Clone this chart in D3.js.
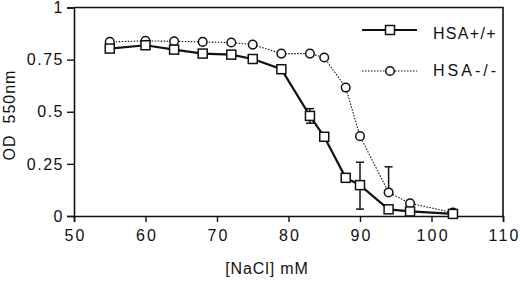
<!DOCTYPE html>
<html>
<head>
<meta charset="utf-8">
<script src="https://cdn.jsdelivr.net/npm/d3@7"></script>
<style>
  body { margin: 0; background: #fff; }
  text { font-family: "Liberation Sans", Arial, sans-serif; fill: #111; }
</style>
</head>
<body>
<svg id="mainsvg" width="520" height="283"></svg>
<script>
// NaCl concentrations (mM)
var nacl = [55, 60, 64, 68, 72, 75, 79, 83, 85, 88, 90, 94, 97, 103];
// OD 550nm values
var wildType = [0.803, 0.819, 0.798, 0.779, 0.774, 0.753, 0.704, 0.48, 0.38, 0.183, 0.148, 0.032, 0.022, 0.01];
var knockOut = [0.835, 0.84, 0.838, 0.835, 0.832, 0.822, 0.779, 0.779, 0.76, 0.616, 0.383, 0.113, 0.061, 0.016];
// error bars: [x, value, up, down]
var wildErr = [[83, 0.48, 0.035, 0.035], [90, 0.148, 0.11, 0.115]];
var koErr = [[94, 0.113, 0.123, 0]];
var xTicks = [50, 60, 70, 80, 90, 100, 110];
var yTicks = [0, 0.25, 0.5, 0.75, 1];
var legendNames = ["HSA+/+", "HSA-/-"];

var svg = d3.select("#mainsvg");
var m = { left: 74, right: 503, top: 7.5, bottom: 216 };

var x = d3.scaleLinear().domain([50, 110]).range([m.left, m.right]);
var y = d3.scaleLinear().domain([0, 1]).range([m.bottom, m.top]);

// frame top/right
svg.append("path")
  .attr("d", "M" + m.left + "," + m.top + "H" + m.right + "V" + m.bottom)
  .attr("fill", "none").attr("stroke", "#111").attr("stroke-width", 1.6);

var xAxis = svg.append("g")
  .attr("transform", "translate(0," + m.bottom + ")")
  .call(d3.axisBottom(x).tickValues(xTicks).tickSize(6).tickPadding(8).tickFormat(d3.format("d")));
var yAxis = svg.append("g")
  .attr("transform", "translate(" + m.left + ",0)")
  .call(d3.axisLeft(y).tickValues(yTicks).tickSize(7).tickPadding(3).tickFormat(function (d) { return d; }));

[xAxis, yAxis].forEach(function (a) {
  a.attr("font-size", 16).attr("font-family", null);
  a.select(".domain").attr("stroke", "#111").attr("stroke-width", 1.6);
  a.selectAll(".tick line").attr("stroke", "#111").attr("stroke-width", 1.4);
  a.selectAll("text").attr("fill", "#111");
});
xAxis.selectAll("text").attr("letter-spacing", 2.2).attr("dx", 1.1);
yAxis.selectAll("text").attr("letter-spacing", 1.5);

// axis titles
svg.append("text").attr("x", 267).attr("y", 274).attr("text-anchor", "middle")
  .attr("font-size", 16).attr("letter-spacing", 0.9).text("[NaCl] mM");
svg.append("text").attr("transform", "translate(15,115) rotate(-90)")
  .attr("text-anchor", "middle").attr("font-size", 16).attr("letter-spacing", 1)
  .style("white-space", "pre").text("OD  550nm");

var line = d3.line()
  .x(function (d) { return x(d[0]); })
  .y(function (d) { return y(d[1]); });

var wildData = nacl.map(function (d, i) { return [d, wildType[i]]; });
var koData = nacl.map(function (d, i) { return [d, knockOut[i]]; });

function errBars(data) {
  data.forEach(function (e) {
    var cx = x(e[0]);
    var g = svg.append("g").attr("stroke", "#111").attr("stroke-width", 1.5);
    g.append("line").attr("x1", cx).attr("x2", cx)
      .attr("y1", y(e[1] + e[2])).attr("y2", y(e[1] - e[3]));
    g.append("line").attr("x1", cx - 4).attr("x2", cx + 4)
      .attr("y1", y(e[1] + e[2])).attr("y2", y(e[1] + e[2]));
    if (e[3] > 0) {
      g.append("line").attr("x1", cx - 4).attr("x2", cx + 4)
        .attr("y1", y(e[1] - e[3])).attr("y2", y(e[1] - e[3]));
    }
  });
}
errBars(wildErr);
errBars(koErr);

// HSA-/- dotted
svg.append("path").datum(koData).attr("d", line)
  .attr("fill", "none").attr("stroke", "#111").attr("stroke-width", 1.1)
  .attr("stroke-dasharray", "1.5,1.5");
svg.selectAll("circle.ko").data(koData).enter().append("circle")
  .attr("class", "ko")
  .attr("cx", function (d) { return x(d[0]); })
  .attr("cy", function (d) { return y(d[1]); })
  .attr("r", 4.3).attr("fill", "#fff").attr("stroke", "#111").attr("stroke-width", 1.5);

// HSA+/+ solid
svg.append("path").datum(wildData).attr("d", line)
  .attr("fill", "none").attr("stroke", "#111").attr("stroke-width", 2.2);
svg.selectAll("rect.wt").data(wildData).enter().append("rect")
  .attr("class", "wt")
  .attr("x", function (d) { return x(d[0]) - 4.5; })
  .attr("y", function (d) { return y(d[1]) - 4.5; })
  .attr("width", 9).attr("height", 9)
  .attr("fill", "#fff").attr("stroke", "#111").attr("stroke-width", 1.5);

// legend
var lg = svg.append("g");
lg.append("line").attr("x1", 362).attr("x2", 417).attr("y1", 30).attr("y2", 30)
  .attr("stroke", "#111").attr("stroke-width", 2.2);
lg.append("rect").attr("x", 385.5).attr("y", 25.5).attr("width", 9).attr("height", 9)
  .attr("fill", "#fff").attr("stroke", "#111").attr("stroke-width", 1.5);
lg.append("line").attr("x1", 362).attr("x2", 417).attr("y1", 71).attr("y2", 71)
  .attr("stroke", "#111").attr("stroke-width", 1.1).attr("stroke-dasharray", "1.5,1.5");
lg.append("circle").attr("cx", 390).attr("cy", 71).attr("r", 4.3)
  .attr("fill", "#fff").attr("stroke", "#111").attr("stroke-width", 1.5);
lg.selectAll("text.lg").data(legendNames).enter().append("text")
  .attr("class", "lg")
  .attr("x", 433).attr("y", function (d, i) { return 39 + i * 37; })
  .attr("font-size", 16)
  .attr("letter-spacing", function (d, i) { return i ? 3 : 1.3; })
  .text(function (d) { return d; });
</script>
</body>
</html>
